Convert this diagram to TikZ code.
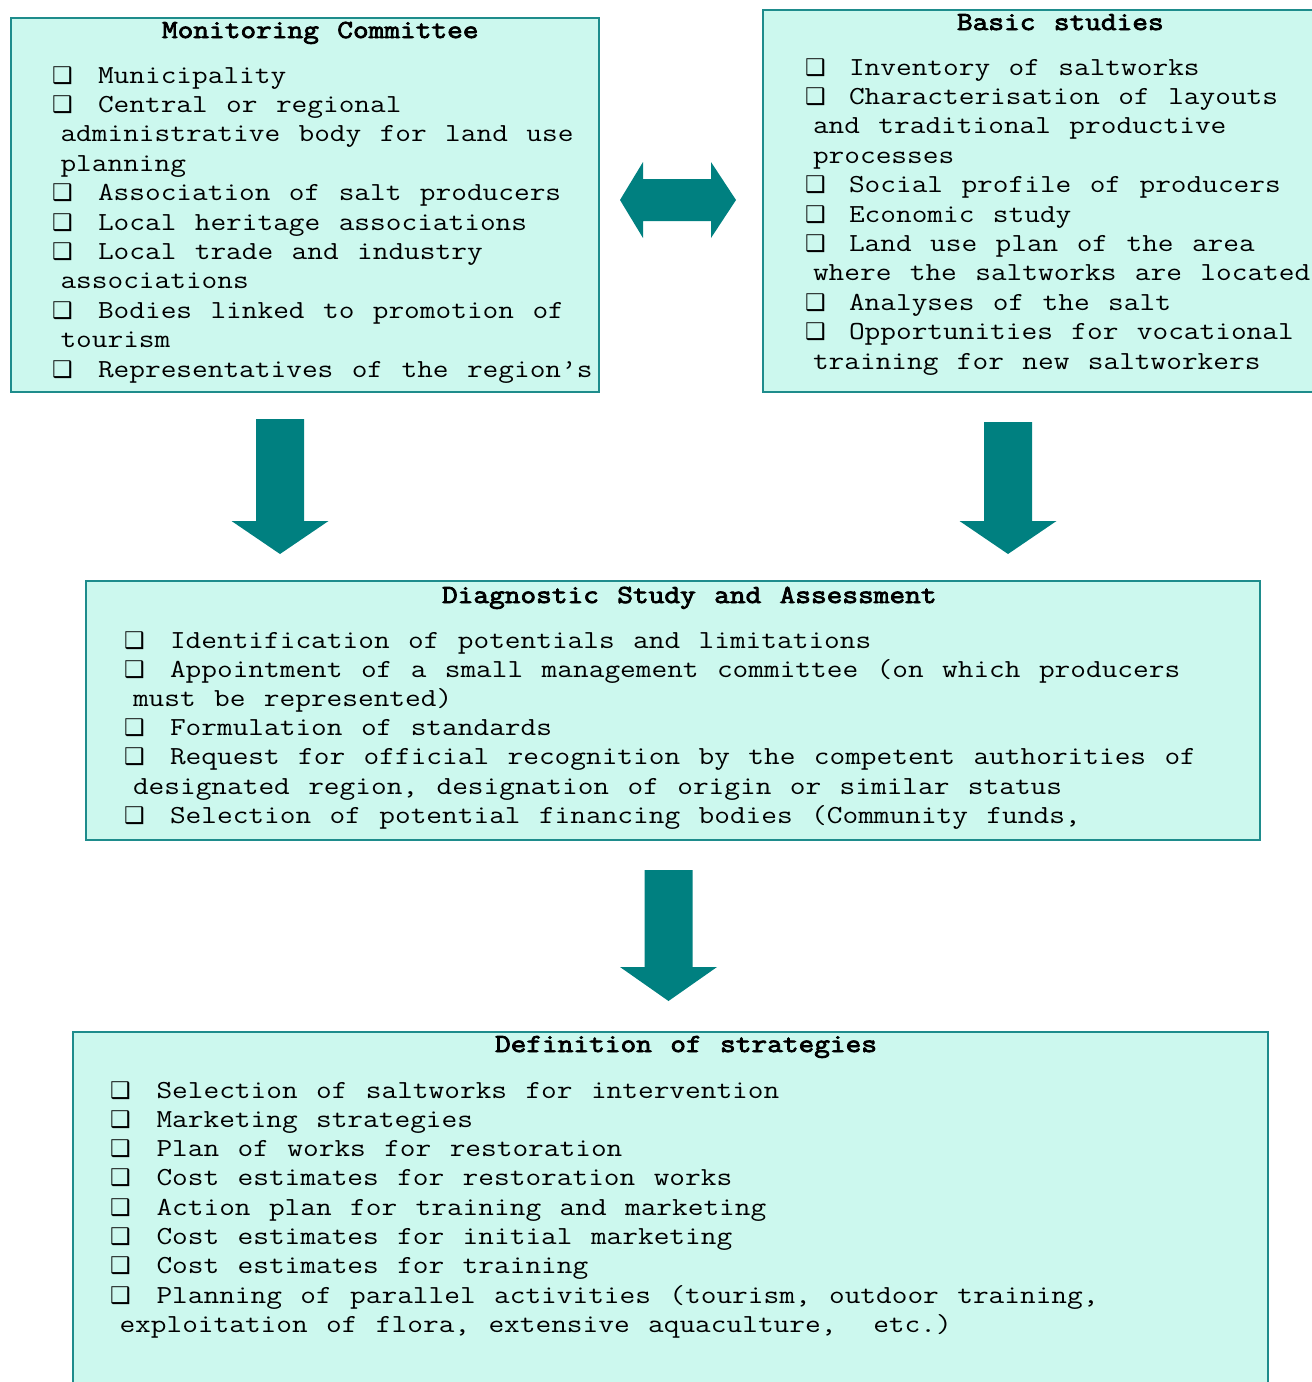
\documentclass[tikz,border=0pt]{standalone}
\usepackage{fontspec}
\setmainfont{Liberation Serif}
\newfontfamily\courtxt{Latin Modern Mono}[FakeStretch=1.172, WordSpace=1.172]
\newfontfamily\courttl{Latin Modern Mono}[FakeStretch=1.172, WordSpace=1.172, FakeBold=3]
\newfontfamily\symfont{DejaVu Sans}
\definecolor{boxfill}{RGB}{204,248,238}
\definecolor{boxline}{RGB}{30,140,140}
\definecolor{arrowteal}{RGB}{0,128,128}
\tikzset{
  panel/.style={draw=boxline, line width=2pt, fill=boxfill, inner sep=0pt, anchor=north west},
  txt/.style={anchor=base west, inner sep=0pt, outer sep=0pt, text=black,
    font=\frenchspacing\courtxt\fontsize{26}{29.3}\selectfont},
  ttl/.style={txt, font=\frenchspacing\courttl\fontsize{26}{29.3}\selectfont},
  bul/.style={anchor=base west, inner sep=0pt, outer sep=0pt, font=\symfont\fontsize{23}{23}\selectfont},
  blockarrow/.style={fill=arrowteal, draw=none},
}
\newcommand\Bul[3]{\node[bul] (#1) at (#2,#3) {❑};}
\newcommand\Ln[4]{\node[txt] (#1) at (#2,#3) {#4};}
\newcommand\DownArr[4]{%
  \fill[blockarrow] (#1-24,#2) -- (#1+24,#2) -- (#1+24,#3) -- (#1+48.5,#3)
    -- (#1,#4) -- (#1-48.5,#3) -- (#1-24,#3) -- cycle;}
\begin{document}
\begin{tikzpicture}[x=1pt,y=-1pt]
\useasboundingbox (0,0) rectangle (1312,1382);
\clip (0,0) rectangle (1312,1382);

% ---------- panels ----------
\node[panel, minimum width=588pt, minimum height=374pt] (mc) at (10,17) {};
\node[panel, minimum width=570pt, minimum height=382pt] (bs) at (762,9) {};
\node[panel, minimum width=1174pt, minimum height=259pt] (ds) at (85,580) {};
\node[panel, minimum width=1195pt, minimum height=380pt] (dfs) at (72,1031) {};

% ---------- Monitoring Committee ----------
\node[ttl] (mct) at (162,38) {Monitoring Committee};
\Bul{mb0}{52}{83}      \Ln{m0}{98}{83}{Municipality}
\Bul{mb1}{52}{112.4}   \Ln{m1}{98}{112.4}{Central or regional}
                       \Ln{m2}{60.5}{141.8}{administrative body for land use}
                       \Ln{m3}{60.5}{171.2}{planning}
\Bul{mb4}{52}{200.6}   \Ln{m4}{98}{200.6}{Association of salt producers}
\Bul{mb5}{52}{230}     \Ln{m5}{98}{230}{Local heritage associations}
\Bul{mb6}{52}{259.4}   \Ln{m6}{98}{259.4}{Local trade and industry}
                       \Ln{m7}{60.5}{288.8}{associations}
\Bul{mb8}{52}{318.2}   \Ln{m8}{98}{318.2}{Bodies linked to promotion of}
                       \Ln{m9}{60.5}{347.6}{tourism}
\Bul{mb10}{52}{377}    \Ln{m10}{98}{377}{Representatives of the region’s}

% ---------- Basic studies ----------
\node[ttl] (bst) at (957,30) {Basic studies};
\Bul{bb0}{805}{75}     \Ln{b0}{849}{75}{Inventory of saltworks}
\Bul{bb1}{805}{104.4}  \Ln{b1}{849}{104.4}{Characterisation of layouts}
                       \Ln{b2}{813}{133.8}{and traditional productive}
                       \Ln{b3}{813}{163.2}{processes}
\Bul{bb4}{805}{192.6}  \Ln{b4}{849}{192.6}{Social profile of producers}
\Bul{bb5}{805}{222}    \Ln{b5}{849}{222}{Economic study}
\Bul{bb6}{805}{251.4}  \Ln{b6}{849}{251.4}{Land use plan of the area}
                       \Ln{b7}{813}{280.8}{where the saltworks are located}
\Bul{bb8}{805}{310.2}  \Ln{b8}{849}{310.2}{Analyses of the salt}
\Bul{bb9}{805}{339.6}  \Ln{b9}{849}{339.6}{Opportunities for vocational}
                       \Ln{b10}{813}{369}{training for new saltworkers}

% ---------- Diagnostic Study and Assessment ----------
\node[ttl] (dst) at (442,603) {Diagnostic Study and Assessment};
\Bul{db0}{124}{648}    \Ln{d0}{170}{648}{Identification of potentials and limitations}
\Bul{db1}{124}{677.2}  \Ln{d1}{170}{677.2}{Appointment of a small management committee (on which producers}
                       \Ln{d2}{133}{706.4}{must be represented)}
\Bul{db3}{124}{735.6}  \Ln{d3}{170}{735.6}{Formulation of standards}
\Bul{db4}{124}{764.8}  \Ln{d4}{170}{764.8}{Request for official recognition by the competent authorities of}
                       \Ln{d5}{133}{794}{designated region, designation of origin or similar status}
\Bul{db6}{124}{823.2}  \Ln{d6}{170}{823.2}{Selection of potential financing bodies (Community funds,}

% ---------- Definition of strategies ----------
\node[ttl] (dft) at (495,1052) {Definition of strategies};
\Bul{fb0}{110}{1098}   \Ln{f0}{156.5}{1098}{Selection of saltworks for intervention}
\Bul{fb1}{110}{1127.3} \Ln{f1}{156.5}{1127.3}{Marketing strategies}
\Bul{fb2}{110}{1156.6} \Ln{f2}{156.5}{1156.6}{Plan of works for restoration}
\Bul{fb3}{110}{1185.9} \Ln{f3}{156.5}{1185.9}{Cost estimates for restoration works}
\Bul{fb4}{110}{1215.2} \Ln{f4}{156.5}{1215.2}{Action plan for training and marketing}
\Bul{fb5}{110}{1244.5} \Ln{f5}{156.5}{1244.5}{Cost estimates for initial marketing}
\Bul{fb6}{110}{1273.8} \Ln{f6}{156.5}{1273.8}{Cost estimates for training}
\Bul{fb7}{110}{1303.1} \Ln{f7}{156.5}{1303.1}{Planning of parallel activities (tourism, outdoor training,}
                       \Ln{f8}{119.5}{1332.4}{exploitation of flora, extensive aquaculture,\ \ etc.)}

% ---------- block arrows ----------
\fill[blockarrow] (620,200) -- (643,162) -- (643,179) -- (711,179) -- (711,162)
  -- (736,200) -- (711,238) -- (711,221) -- (643,221) -- (643,238) -- cycle;
\DownArr{280}{419}{521}{554}
\DownArr{1008}{422}{521}{554}
\DownArr{668.5}{870}{967}{1001}
\end{tikzpicture}
\end{document}
